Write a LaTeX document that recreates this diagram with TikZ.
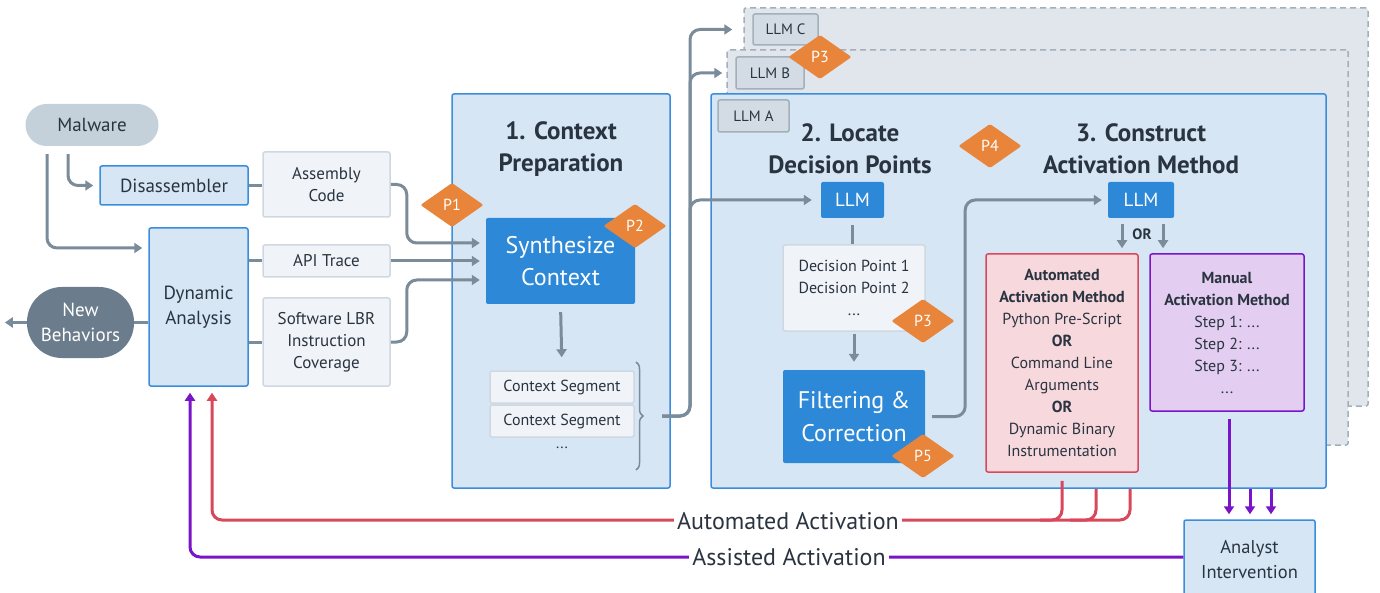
\documentclass[tikz,border=0pt]{standalone}
\usepackage{fontspec}
\setmainfont{PT Sans}
\usetikzlibrary{shapes.geometric,arrows.meta,decorations.pathreplacing}
\definecolor{panel}{HTML}{D6E6F5}
\definecolor{bluebd}{HTML}{3A8DDB}
\definecolor{bluefill}{HTML}{2D89D8}
\definecolor{gline}{HTML}{7A8B9A}
\definecolor{lightbox}{HTML}{F0F4F8}
\definecolor{lightbd}{HTML}{CFD8E0}
\definecolor{malw}{HTML}{C5D1DA}
\definecolor{newb}{HTML}{6B7D8C}
\definecolor{stackfill}{HTML}{E1E6EC}
\definecolor{stackbd}{HTML}{A3AFBA}
\definecolor{llmlab}{HTML}{D3DCE4}
\definecolor{porange}{HTML}{E8853A}
\definecolor{redl}{HTML}{D9475B}
\definecolor{redfill}{HTML}{F6D8DD}
\definecolor{purl}{HTML}{7A14C8}
\definecolor{purfill}{HTML}{E3CDF1}
\definecolor{textc}{HTML}{2A3440}
\tikzset{
  base/.style={text=textc, align=center, inner sep=0pt, font=\fontsize{17}{22}\selectfont},
  lbox/.style={base, draw=lightbd, line width=1.5pt, fill=lightbox, rounded corners=2pt},
  bbox/.style={base, draw=bluebd, line width=1.5pt, fill=panel, rounded corners=2pt},
  sbox/.style={base, fill=bluefill, text=white, rounded corners=2pt},
  stackpanel/.style={draw=stackbd, line width=1.5pt, dash pattern=on 6pt off 4pt, fill=stackfill, rounded corners=2pt, inner sep=0pt},
  llmtag/.style={base, draw=stackbd, line width=1.5pt, fill=llmlab, rounded corners=2pt, font=\fontsize{15}{18}\selectfont},
  ptext/.style={text=white, inner sep=0pt, font=\fontsize{16}{18}\selectfont},
  title/.style={base, font=\fontsize{25}{32}\selectfont\bfseries},
  conn/.style={draw=gline, line width=3pt, rounded corners=10pt, -{Triangle[width=10pt,length=8pt]}},
  plain/.style={draw=gline, line width=3pt, rounded corners=10pt},
  redconn/.style={draw=redl, line width=3pt, rounded corners=10pt},
  purconn/.style={draw=purl, line width=3pt, rounded corners=10pt},
  flowlabel/.style={base, fill=white, inner xsep=3pt, inner ysep=2pt, font=\fontsize{24}{26}\selectfont},
}
\newcommand\pdmark[3]{%
  \coordinate (#1) at (#2);
  \fill[porange, rounded corners=1.5pt] ([xshift=-31.5pt]#1) -- ([yshift=22pt]#1) -- ([xshift=31.5pt]#1) -- ([yshift=-22pt]#1) -- cycle;
  \node[ptext] (#1-t) at (#1) {#3};}
\begin{document}
\begin{tikzpicture}[x=1pt,y=-1pt]
\useasboundingbox (0,0) rectangle (1380,593);
\clip (0,0) rectangle (1380,593);

% ---------- left part ----------
\node[base, fill=malw, rounded corners=21pt, minimum width=133pt, minimum height=42pt, font=\fontsize{19}{22}\selectfont] (malware) at (92,125) {Malware};
\node[bbox, minimum width=148pt, minimum height=39pt, font=\fontsize{19}{22}\selectfont] (disasm) at (174,185.5) {Disassembler};
\node[lbox, minimum width=127pt, minimum height=65pt] (asm) at (326.5,184.5) {Assembly\\Code};
\node[lbox, minimum width=127pt, minimum height=32pt] (api) at (326.5,261) {API Trace};
\node[lbox, minimum width=127pt, minimum height=88pt] (lbr) at (326.5,342) {Software LBR\\Instruction\\Coverage};
\node[bbox, minimum width=99pt, minimum height=158pt, font=\fontsize{19}{25}\selectfont] (dyn) at (198.5,307) {Dynamic\\Analysis};
\node[base, fill=newb, text=white, rounded corners=35pt, minimum width=107pt, minimum height=71pt, font=\fontsize{19}{25}\selectfont] (newb) at (80.5,322.5) {New\\Behaviors};

\draw[conn, shorten <=8pt, shorten >=6pt] ([xshift=-24pt]malware.south) |- (disasm.west);
\draw[conn, shorten <=8pt, shorten >=6pt] ([xshift=-45pt]malware.south) |- ([yshift=59pt]dyn.west);
\draw[plain] (disasm.east) -- (disasm.east -| asm.west);
\draw[plain] (api.west -| dyn.east) -- (api.west);
\draw[plain] (lbr.west -| dyn.east) -- (lbr.west);
\draw[plain] (newb.east -| dyn.west) -- (newb.east);
\draw[conn] (newb.west) -- ++(-22,0);

% ---------- context preparation ----------
\node[bbox, minimum width=218pt, minimum height=394pt] (ctx) at (561,291) {};
\node[title] (t1) at (561,149) {1. Context\\Preparation};
\node[sbox, minimum width=149pt, minimum height=86pt, font=\fontsize{24}{32}\selectfont] (synth) at (560.5,261) {Synthesize\\Context};
\node[lbox, minimum width=144pt, minimum height=32pt, font=\fontsize{16}{20}\selectfont] (seg1) at (562,387) {Context Segment};
\node[lbox, minimum width=144pt, minimum height=32pt, font=\fontsize{16}{20}\selectfont] (seg2) at (562,421) {Context Segment};
\node[base, font=\fontsize{15}{18}\selectfont] (segdots) at (562,448) {...};
\draw[gline, line width=1.5pt, decorate, decoration={brace, amplitude=7pt}] (636,362) -- (636,470);
\coordinate (bt) at (662,416);

\draw[conn, shorten >=6pt] (asm.east) -- ++(16,0) |- ([yshift=18pt]synth.west);
\draw[conn, shorten >=6pt] (api.east) -- (api.east -| synth.west);
\draw[conn, shorten >=6pt] (lbr.east) -- ++(16,0) |- ([yshift=-19pt]synth.west);
\draw[conn, shorten <=8pt, shorten >=13pt] (synth.south) -- (seg1.north);

\pdmark{p1}{452,205}{P1}
\pdmark{p2}{635,226}{P2}

% ---------- stacked LLM panels ----------
\node[stackpanel, minimum width=624pt, minimum height=398pt] (stackC) at (1056,207) {};
\node[llmtag, minimum width=65pt, minimum height=31pt] (llmC) at (785.5,29.5) {LLM C};
\node[stackpanel, minimum width=621pt, minimum height=395pt] (stackB) at (1037.5,247.5) {};
\node[llmtag, minimum width=68pt, minimum height=32pt] (llmB) at (770,73) {LLM B};
\node[bbox, minimum width=615pt, minimum height=394pt] (panelA) at (1018.5,291) {};
\node[llmtag, minimum width=71pt, minimum height=32pt] (llmA) at (753.5,116) {LLM A};
\pdmark{p3a}{820,57}{P3}

\draw[conn, shorten >=20pt] (bt) -- ++(28,0) |- (llmC.west);
\draw[conn, shorten >=13pt] (bt) -- ++(28,0) |- (llmB.west);

\node[title] (t2) at (850,149) {2. Locate\\Decision Points};
\node[title] (t3) at (1141,149) {3. Construct\\Activation Method};
\pdmark{p4}{990,146}{P4}

\node[sbox, minimum width=63pt, minimum height=36pt, font=\fontsize{19}{22}\selectfont] (llm1) at (852.5,200) {LLM};
\node[sbox, minimum width=66pt, minimum height=36pt, font=\fontsize{19}{22}\selectfont] (llm2) at (1141,200) {LLM};
\draw[conn, shorten >=9pt] (bt) -- ++(28,0) |- (llm1.west);

\node[lbox, minimum width=142pt, minimum height=86pt, font=\fontsize{16}{22}\selectfont] (dec) at (854,288) {Decision Point 1\\Decision Point 2\\...};
\node[sbox, minimum width=142pt, minimum height=93pt, font=\fontsize{24}{33}\selectfont] (filt) at (854,416.5) {Filtering \&\\Correction};
\draw[plain, shorten <=7pt] (llm1.south) -- (llm1.south |- dec.north);
\draw[conn, shorten <=2pt, shorten >=8pt] (dec.south) -- (dec.south |- filt.north);
\draw[conn, shorten <=7pt, shorten >=6pt] (filt.east) -- ++(40,0) |- (llm2.west);

\pdmark{p3b}{923,321}{P3}
\pdmark{p5}{923,456}{P5}

\draw[conn, shorten <=6pt] ([xshift=-19pt]llm2.south) -- ++(0,30);
\draw[conn, shorten <=6pt] ([xshift=22pt]llm2.south) -- ++(0,30);
\node[base, font=\fontsize{15}{18}\selectfont\bfseries] (orlbl) at (1142,234) {OR};

\node[base, draw=redl, line width=1.5pt, fill=redfill, rounded corners=2pt, minimum width=152pt, minimum height=218pt, font=\fontsize{16}{22}\selectfont] (auto) at (1062,363)
  {\textbf{Automated}\\\textbf{Activation Method}\\Python Pre-Script\\\textbf{OR}\\Command Line\\Arguments\\\textbf{OR}\\Dynamic Binary\\Instrumentation};
\node[base, draw=purl, line width=1.5pt, fill=purfill, rounded corners=2pt, minimum width=154pt, minimum height=157pt, font=\fontsize{16}{22}\selectfont] (manual) at (1227,332.5)
  {\textbf{Manual}\\\textbf{Activation Method}\\Step 1: ...\\Step 2: ...\\Step 3: ...\\...};

% ---------- analyst & feedback ----------
\node[bbox, minimum width=131pt, minimum height=80pt, font=\fontsize{18.5}{25}\selectfont] (analyst) at (1249.5,560) {Analyst\\Intervention};

\draw[redconn, -{Triangle[width=10pt,length=8pt]}, shorten <=8pt, shorten >=6pt] (auto.south) -- (1062,520) -| ([xshift=13.5pt]dyn.south);
\draw[redconn] ([xshift=34pt]auto.south |- panelA.south) -- (1096,520) -- (1040,520);
\draw[redconn] ([xshift=68pt]auto.south |- panelA.south) -- (1130,520) -- (1070,520);
\node[flowlabel] (autolbl) at (788,521) {Automated Activation};

\draw[purconn, -{Triangle[width=10pt,length=8pt]}, shorten <=7pt, shorten >=5pt] ([xshift=2pt]manual.south) -- ([xshift=2pt]manual.south |- analyst.north);
\draw[purconn, -{Triangle[width=10pt,length=8pt]}, shorten >=5pt] ([xshift=0.5pt]analyst.north |- panelA.south) -- ([xshift=0.5pt]analyst.north);
\draw[purconn, -{Triangle[width=10pt,length=8pt]}, shorten >=5pt] ([xshift=21.5pt]analyst.north |- panelA.south) -- ([xshift=21.5pt]analyst.north);
\draw[purconn, -{Triangle[width=10pt,length=8pt]}, shorten >=6pt] ([yshift=3pt]analyst.west) -| ([xshift=-8.5pt]dyn.south);
\node[flowlabel] (asslbl) at (789,557) {Assisted Activation};
\end{tikzpicture}
\end{document}
